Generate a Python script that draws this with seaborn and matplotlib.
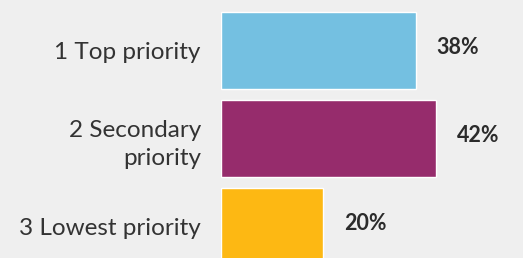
import matplotlib
matplotlib.use("Agg")
import matplotlib.pyplot as plt
import seaborn as sns
import pandas as pd

# 데이터
categories = ["1 Top priority", "2 Secondary\npriority", "3 Lowest priority"]
shares = [38, 42, 20]
bar_colors = ["#74C0E1", "#962C6C", "#FDB813"]

df = pd.DataFrame({"category": categories, "share": shares})

sns.set_theme(style="white")
plt.rcParams['font.family'] = ['Lato', 'DejaVu Sans']

bg = "#EFEFEF"
fig = plt.figure(figsize=(5.23, 2.58), dpi=100, facecolor=bg)
ax = fig.add_axes([221 / 523, 0, 302 / 523, 1], facecolor=bg)

sns.barplot(data=df, x="share", y="category", hue="category",
            palette=bar_colors, orient="h", width=0.886,
            legend=False, ax=ax, saturation=1)

# 값 라벨
for i, v in enumerate(shares):
    ax.text(v + 4.1, i - 0.03, f"{v}%", va="center", ha="left",
            fontsize=15.5, fontweight="bold", color="#2b2b2b")

ax.set_xlim(0, 59)
ax.set_ylim(2.358, -0.574)
ax.set_xlabel("")
ax.set_ylabel("")
ax.set_xticks([])
ax.tick_params(axis="y", length=0, pad=14.5, labelsize=17.5, labelcolor="#333333")
for lbl in ax.get_yticklabels():
    lbl.set_linespacing(1.42)
sns.despine(ax=ax, left=True, bottom=True)

fig.savefig("out.png", dpi=100, facecolor=bg)
